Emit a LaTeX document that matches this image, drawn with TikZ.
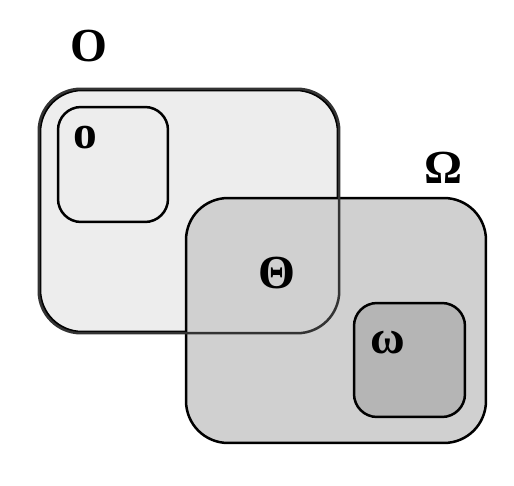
\documentclass[tikz,border=0pt]{standalone}
\usepackage{fontspec}
\setmainfont{Liberation Serif}
\usepackage{tikz}
\usetikzlibrary{positioning}

\definecolor{outerlight}{HTML}{EDEDED}
\definecolor{outerdark}{HTML}{D0D0D0}
\definecolor{innerdark}{HTML}{B5B5B5}

\begin{document}
\begin{tikzpicture}[x=0.02cm, y=-0.02cm, line width=0.05cm,
                    every node/.style={font=\fontsize{27}{27}\selectfont\bfseries, inner sep=0pt}]
  \tikzstyle{set}=[draw=black, rounded corners=0.84cm]
  \tikzstyle{subset}=[draw=black, rounded corners=0.46cm]

  \useasboundingbox (0,0) rectangle (514,486);

  \node[set, fill=outerlight, minimum width=5.96cm, minimum height=4.84cm] (O) at (189,211) {};
  \node[subset, fill=outerlight, minimum width=2.2cm, minimum height=2.3cm] (o) at (113,164.5) {};
  \node[set, fill=outerdark, minimum width=6cm, minimum height=4.9cm] (W) at (336,320.5) {};
  \node[subset, fill=innerdark, minimum width=2.22cm, minimum height=2.28cm] (w) at (409.5,360) {};
  % border of O stays visible over W
  \draw[black!80, rounded corners=0.84cm] (O.south west) rectangle (O.north east);

  \node (Olab) [above left=0.52cm and 1.6cm of O.north]        {Ο};
  \node (olab) [below right=0.38cm and 0.3cm of o.north west]  {ο};
  \node (Wlab) [above=0.25cm of W.north east, xshift=-0.88cm]  {Ω};
  \node (wlab) [below right=0.56cm and 0.32cm of w.north west] {ω};
  \node (Tlab) at (277,273) {Θ};
\end{tikzpicture}
\end{document}
